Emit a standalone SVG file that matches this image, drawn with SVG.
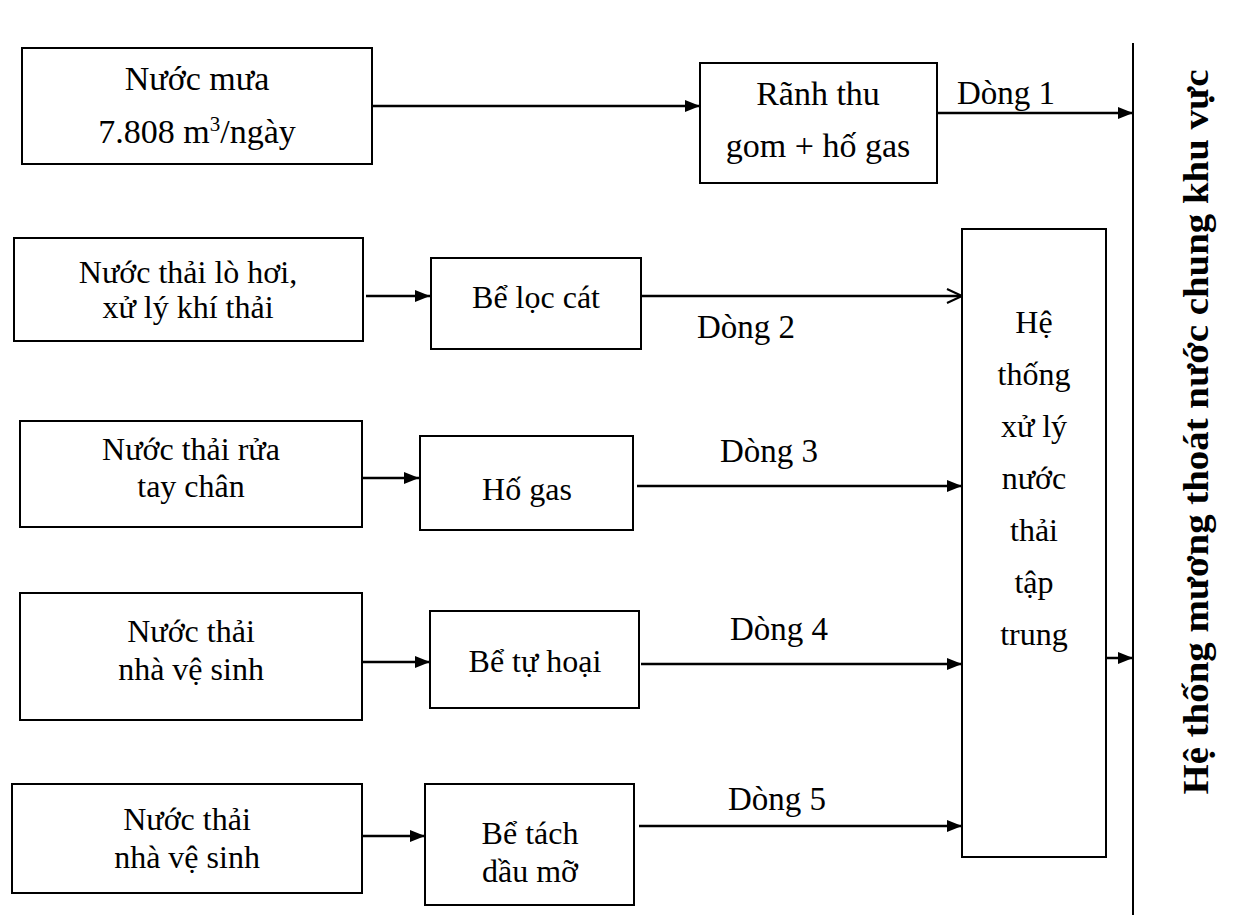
<svg xmlns="http://www.w3.org/2000/svg" width="1242" height="917" viewBox="0 0 1242 917" font-family="Liberation Serif, serif">
<style>
.box{fill:#fff;stroke:#000;stroke-width:2}
.t{font-family:"Liberation Serif",serif;font-size:32px;fill:#000;text-anchor:middle}
.lb{font-family:"Liberation Serif",serif;font-size:33px;fill:#000}
.c{stroke:#000;stroke-width:2.5;fill:none}
.vt{font-family:"Liberation Serif",serif;font-size:36px;font-weight:bold;fill:#000;text-anchor:middle}
</style>
<defs>
<marker id="fa" markerUnits="userSpaceOnUse" markerWidth="16" markerHeight="14" refX="15" refY="7" orient="auto">
<path d="M0,1 L15,7 L0,13 z" fill="#000"/>
</marker>
<marker id="oa" markerUnits="userSpaceOnUse" markerWidth="18" markerHeight="16" refX="16" refY="8" orient="auto">
<path d="M1,1 L16,8 L1,15" fill="none" stroke="#000" stroke-width="2"/>
</marker>
</defs>
<rect width="1242" height="917" fill="#fff"/>

<g id="connectors">
<line class="c" x1="372" y1="106" x2="700" y2="106" marker-end="url(#fa)"/>
<line class="c" x1="937" y1="113" x2="1133" y2="113" marker-end="url(#fa)"/>
<line class="c" x1="366" y1="296" x2="430" y2="296" marker-end="url(#fa)"/>
<line class="c" x1="641" y1="296" x2="962" y2="296" marker-end="url(#oa)"/>
<line class="c" x1="362" y1="478" x2="419" y2="478" marker-end="url(#fa)"/>
<line class="c" x1="637" y1="486" x2="962" y2="486" marker-end="url(#fa)"/>
<line class="c" x1="362" y1="662" x2="430" y2="662" marker-end="url(#fa)"/>
<line class="c" x1="641" y1="664" x2="962" y2="664" marker-end="url(#fa)"/>
<line class="c" x1="362" y1="836" x2="425" y2="836" marker-end="url(#fa)"/>
<line class="c" x1="639" y1="826" x2="962" y2="826" marker-end="url(#fa)"/>
<line class="c" x1="1106" y1="658" x2="1133" y2="658" marker-end="url(#fa)"/>
<text class="lb" x="957" y="104">Dòng 1</text>
<text class="lb" x="697" y="338">Dòng 2</text>
<text class="lb" x="720" y="462">Dòng 3</text>
<text class="lb" x="730" y="640">Dòng 4</text>
<text class="lb" x="728" y="810">Dòng 5</text>
</g>

<g id="nuoc-mua">
<rect class="box" x="22" y="48" width="350" height="116"/>
<text class="t" x="197" y="90" style="font-size:34px">Nước mưa</text>
<text class="t" x="197" y="143" style="font-size:34px">7.808 m<tspan dy="-12" style="font-size:21px">3</tspan><tspan dy="12">/ngày</tspan></text>
</g>

<g id="ranh-thu-gom">
<rect class="box" x="700" y="63" width="237" height="120"/>
<text class="t" x="818" y="105" style="font-size:34px">Rãnh thu</text>
<text class="t" x="818" y="157" style="font-size:34px">gom + hố gas</text>
</g>

<g id="muong-thoat-nuoc">
<line x1="1133" y1="43" x2="1133" y2="915" stroke="#000" stroke-width="2"/>
<text class="vt" transform="translate(1208,432) rotate(-90)" textLength="725" lengthAdjust="spacingAndGlyphs">Hệ thống mương thoát nước chung khu vực</text>
</g>

<g id="lo-hoi">
<rect class="box" x="14" y="238" width="349" height="103"/>
<text class="t" x="188" y="283">Nước thải lò hơi,</text>
<text class="t" x="188" y="318">xử lý khí thải</text>
</g>

<g id="be-loc-cat">
<rect class="box" x="431" y="258" width="210" height="91"/>
<text class="t" x="536" y="308">Bể lọc cát</text>
</g>

<g id="he-thong-xu-ly">
<rect class="box" x="962" y="229" width="144" height="628"/>
<text class="t" x="1034" y="333">Hệ</text>
<text class="t" x="1034" y="385">thống</text>
<text class="t" x="1034" y="437">xử lý</text>
<text class="t" x="1034" y="489">nước</text>
<text class="t" x="1034" y="541">thải</text>
<text class="t" x="1034" y="593">tập</text>
<text class="t" x="1034" y="645">trung</text>
</g>

<g id="rua-tay-chan">
<rect class="box" x="20" y="421" width="342" height="106"/>
<text class="t" x="191" y="460">Nước thải rửa</text>
<text class="t" x="191" y="497">tay chân</text>
</g>

<g id="ho-gas">
<rect class="box" x="420" y="436" width="213" height="94"/>
<text class="t" x="527" y="500">Hố gas</text>
</g>

<g id="nha-ve-sinh-1">
<rect class="box" x="20" y="593" width="342" height="127"/>
<text class="t" x="191" y="642">Nước thải</text>
<text class="t" x="191" y="680">nhà vệ sinh</text>
</g>

<g id="be-tu-hoai">
<rect class="box" x="430" y="611" width="209" height="97"/>
<text class="t" x="535" y="672">Bể tự hoại</text>
</g>

<g id="nha-ve-sinh-2">
<rect class="box" x="12" y="784" width="350" height="109"/>
<text class="t" x="187" y="830">Nước thải</text>
<text class="t" x="187" y="868">nhà vệ sinh</text>
</g>

<g id="be-tach-dau-mo">
<rect class="box" x="425" y="784" width="209" height="121"/>
<text class="t" x="530" y="844">Bể tách</text>
<text class="t" x="530" y="882">dầu mỡ</text>
</g>
</svg>
